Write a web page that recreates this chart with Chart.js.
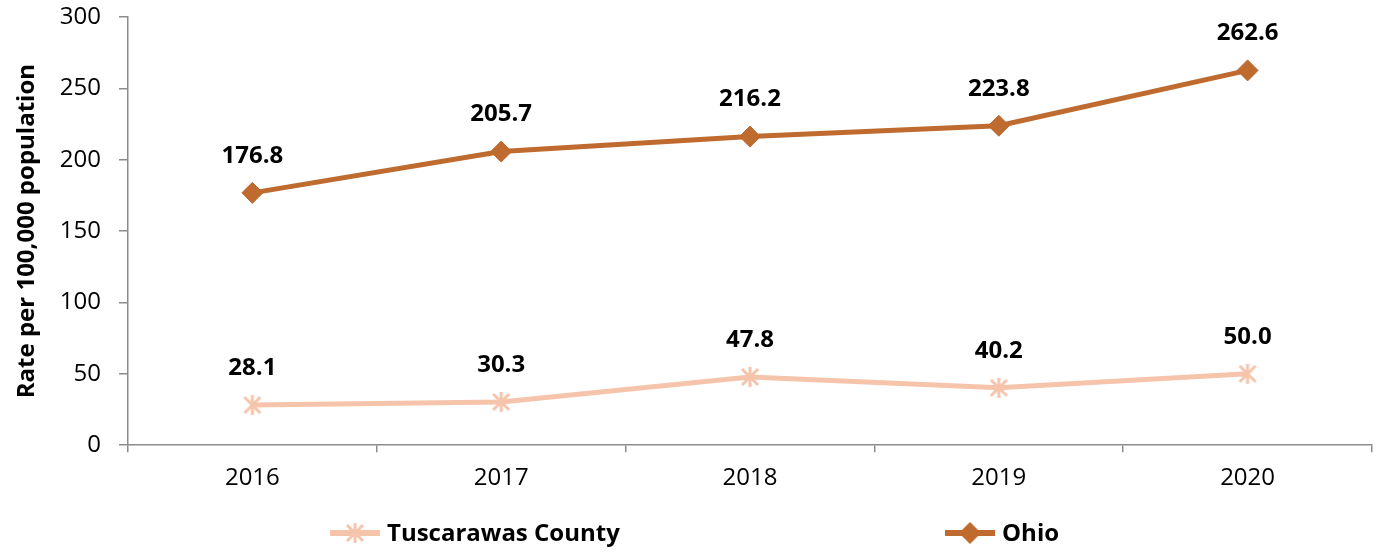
<!DOCTYPE html>
<html><head><meta charset="utf-8">
<script src="https://cdn.jsdelivr.net/npm/chart.js@4"></script>
<style>html,body{margin:0;background:#fff;overflow:hidden}#wrap{width:1386px;height:555px;position:relative}</style>
</head><body><div id="wrap"><canvas id="c"></canvas></div>
<script>
const years = ['2016','2017','2018','2019','2020'];
const tuscarawas = [28.1,30.3,47.8,40.2,50.0];
const ohio = [176.8,205.7,216.2,223.8,262.6];
const seriesNames = ['Tuscarawas County','Ohio'];
const yTicks = [0,50,100,150,200,250,300];

const FONT = "'Open Sans', 'Noto Sans', sans-serif";
const tuscColor = '#F5C4AB';
const ohioColor = '#BF6A2E';
const axisColor = '#8C8C8C';

// Excel-style star marker: an X with a vertical stroke
function starMarker(color){
  const c = document.createElement('canvas');
  c.width = 22; c.height = 22;
  const g = c.getContext('2d');
  g.strokeStyle = color; g.lineWidth = 3; g.lineCap = 'butt';
  g.beginPath();
  g.moveTo(3,3); g.lineTo(19,19);
  g.moveTo(19,3); g.lineTo(3,19);
  g.moveTo(11,1); g.lineTo(11,21);
  g.stroke();
  return c;
}
const tuscMarker = starMarker(tuscColor);

// value labels above each point
const valueLabels = {
  id:'valueLabels',
  afterDatasetsDraw(chart){
    const ctx = chart.ctx;
    ctx.save();
    ctx.font = 'bold 24px ' + FONT;
    ctx.fillStyle = '#000';
    ctx.textAlign = 'center';
    ctx.textBaseline = 'middle';
    chart.data.datasets.forEach((ds,i)=>{
      chart.getDatasetMeta(i).data.forEach((pt,j)=>{
        ctx.fillText(ds.data[j].toFixed(1), pt.x, pt.y - 37);
      });
    });
    ctx.restore();
  }
};

// legend at bottom, items spread apart like the original
const bottomLegend = {
  id:'bottomLegend',
  afterDraw(chart){
    const ctx = chart.ctx;
    const y = 533;
    const items = [{x:330, ds:0},{x:945, ds:1}];
    ctx.save();
    items.forEach(it=>{
      const ds = chart.data.datasets[it.ds];
      ctx.strokeStyle = ds.borderColor;
      ctx.fillStyle = ds.backgroundColor;
      ctx.lineWidth = 6;
      ctx.beginPath(); ctx.moveTo(it.x, y); ctx.lineTo(it.x+50, y); ctx.stroke();
      ctx.lineWidth = ds.pointBorderWidth;
      Chart.helpers.drawPoint(ctx, {pointStyle:ds.pointStyle, radius:ds.pointRadius, rotation:0, borderWidth:ds.pointBorderWidth}, it.x+25, y);
      ctx.fillStyle = '#000';
      ctx.font = 'bold 24px ' + FONT;
      ctx.textAlign = 'left';
      ctx.textBaseline = 'middle';
      ctx.fillText(ds.label, it.x+57, y+1);
    });
    ctx.restore();
  }
};

new Chart(document.getElementById('c'), {
  type:'line',
  data:{
    labels:years,
    datasets:[
      { label:seriesNames[0], data:tuscarawas, borderColor:tuscColor, backgroundColor:tuscColor,
        borderWidth:5, pointStyle:tuscMarker, pointRadius:11, pointBorderWidth:3, pointHoverRadius:11, tension:0 },
      { label:seriesNames[1], data:ohio, borderColor:ohioColor, backgroundColor:ohioColor,
        borderWidth:5, pointStyle:'rectRot', pointRadius:10.5, pointBorderWidth:1, pointHoverRadius:10.5, tension:0 }
    ]
  },
  options:{
    responsive:true, maintainAspectRatio:false, animation:false,
    layout:{ padding:{ left:13, right:7, top:17, bottom:50 } },
    plugins:{ legend:{display:false}, tooltip:{enabled:false} },
    scales:{
      x:{
        offset:true,
        afterFit(axis){ axis.paddingLeft = 0; axis.paddingRight = 0; },
        grid:{ offset:true, drawOnChartArea:false, color:axisColor, tickLength:7, lineWidth:1.5 },
        border:{ color:axisColor, width:1.5 },
        ticks:{ color:'#000', font:{family:FONT, size:24}, padding:12 }
      },
      y:{
        min:0, max:300,
        afterBuildTicks(axis){ axis.ticks = yTicks.map(v=>({value:v})); },
        afterFit(axis){ axis.paddingTop = 0; axis.paddingBottom = 0; axis.paddingLeft = 0; axis.paddingRight = 0; },
        grid:{ drawOnChartArea:false, color:axisColor, tickLength:9, lineWidth:1.5 },
        border:{ color:axisColor, width:1.5 },
        ticks:{ color:'#000', font:{family:FONT, size:24}, padding:18 },
        title:{ display:true, text:'Rate per 100,000 population', color:'#000',
          font:{family:FONT, size:24, weight:'bold'}, padding:{top:0,bottom:0} }
      }
    }
  },
  plugins:[valueLabels, bottomLegend]
});
</script>
</body></html>
